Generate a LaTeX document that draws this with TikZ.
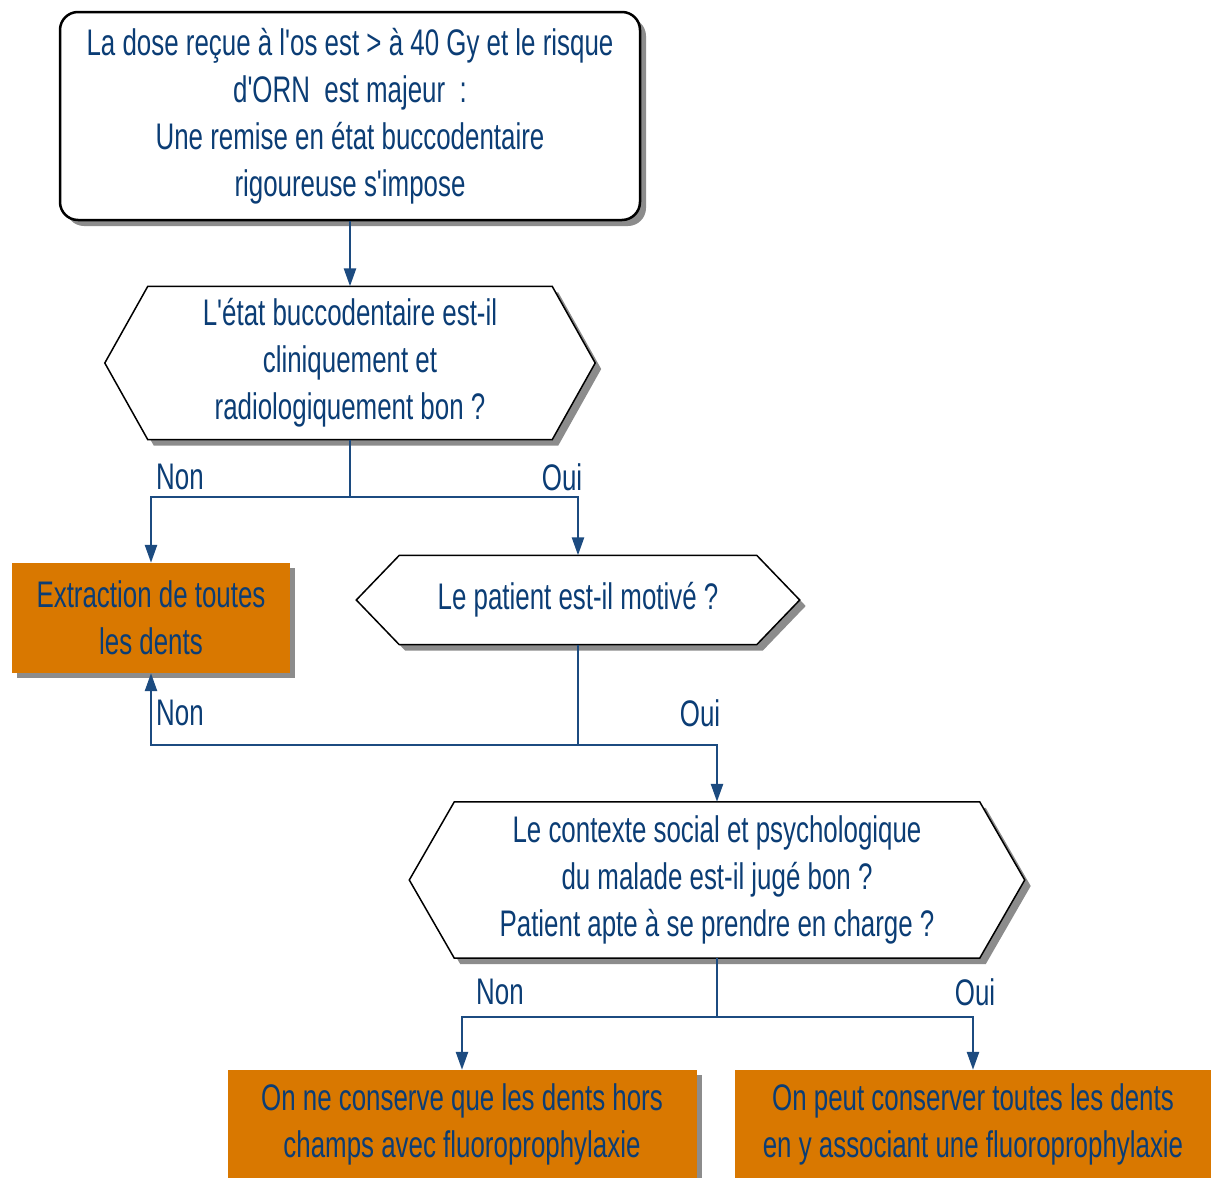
\documentclass[tikz,border=0pt]{standalone}
\usepackage{fontspec}
\setmainfont[FakeStretch=0.70, Ligatures=TeXOff]{Liberation Sans}
\usetikzlibrary{arrows.meta,backgrounds,calc,shadows}
\definecolor{navy}{HTML}{0B3D75}
\definecolor{linec}{HTML}{1C4B80}
\definecolor{orng}{HTML}{D97800}
\definecolor{shad}{HTML}{8C8C8C}
\newcommand\hexshape[2]{%
\begin{scope}[on background layer]
\foreach \o/\sty in {6/hexshadow,0/hexface}{
 \path[\sty] ($(#1.west)+(\o,\o)$) -- ($(#1.north west)+(#2+\o,\o)$) -- ($(#1.north east)+(-#2+\o,\o)$) -- ($(#1.east)+(\o,\o)$) -- ($(#1.south east)+(-#2+\o,\o)$) -- ($(#1.south west)+(#2+\o,\o)$) -- cycle;
}
\end{scope}}
\begin{document}
\begin{tikzpicture}[x=1pt,y=-1pt,
 every node/.style={font=\fontsize{37}{47}\selectfont, text=navy, align=center, inner sep=0pt},
 topbox/.style={draw=black, line width=2.5pt, fill=white, rounded corners=18pt,
   drop shadow={shadow xshift=6pt, shadow yshift=-6pt, fill=shad, opacity=1}},
 orbox/.style={fill=orng, drop shadow={shadow xshift=5pt, shadow yshift=-5pt, fill=shad, opacity=1}},
 hexshadow/.style={fill=shad},
 hexface/.style={fill=white, draw=black, line width=1.5pt, line join=miter},
 conn/.style={draw=linec, line width=2.5pt},
 arr/.style={conn, -{Triangle[width=12pt,length=18pt]}},
 lbl/.style={}]
\begin{scope}[on background layer]
\fill[white] (0,0) rectangle (1211,1178);
\end{scope}
\useasboundingbox (0,0) rectangle (1211,1178);

\node[topbox, minimum width=580pt, minimum height=208pt] (top) at (350,116)
 {La dose reçue à l'os est > à 40 Gy et le risque\\ d'ORN\ \ est majeur\ \ :\\ Une remise en état buccodentaire\\ rigoureuse s'impose};

\node[minimum width=490pt, minimum height=153pt] (h1) at (350,363)
 {L'état buccodentaire est-il\\ cliniquement et\\ radiologiquement bon ?};
\hexshape{h1}{43}

\node[orbox, minimum width=278pt, minimum height=110pt] (b1) at (151,618)
 {Extraction de toutes\\ les dents};

\node[minimum width=443pt, minimum height=89pt] (h2) at (578,600)
 {Le patient est-il motivé ?};
\hexshape{h2}{43}

\node[minimum width=615pt, minimum height=156pt] (h3) at (717,880)
 {Le contexte social et psychologique\\ du malade est-il jugé bon ?\\ Patient apte à se prendre en charge ?};
\hexshape{h3}{45}

\node[orbox, minimum width=469pt, minimum height=108pt] (b3) at (462,1124)
 {On ne conserve que les dents hors\\ champs avec fluoroprophylaxie};
\node[fill=orng, minimum width=476pt, minimum height=108pt] (b4) at (973,1124)
 {On peut conserver toutes les dents\\ en y associant une fluoroprophylaxie};

\coordinate (j1) at (h1.south |- 0,497);
\coordinate (j2) at (h2.south |- 0,745);
\coordinate (j3) at (h3.south |- 0,1017);

\draw[arr] (top.south) -- (h1.north);
\draw[conn] (h1.south) -- (j1);
\draw[arr] (j1) -| (b1.north);
\draw[arr] (j1) -| (h2.north);
\draw[conn] (h2.south) -- (j2);
\draw[arr] (j2) -| (b1.south);
\draw[arr] (j2) -| (h3.north);
\draw[conn] (h3.south) -- (j3);
\draw[arr] (j3) -| (b3.north);
\draw[arr] (j3) -| (b4.north);

\node[lbl] (l1) at (180,477) {Non};
\node[lbl] (l2) at (562,477) {Oui};
\node[lbl] (l3) at (180,713) {Non};
\node[lbl] (l4) at (700,713) {Oui};
\node[lbl] (l5) at (500,992) {Non};
\node[lbl] (l6) at (975,992) {Oui};
\end{tikzpicture}
\end{document}
